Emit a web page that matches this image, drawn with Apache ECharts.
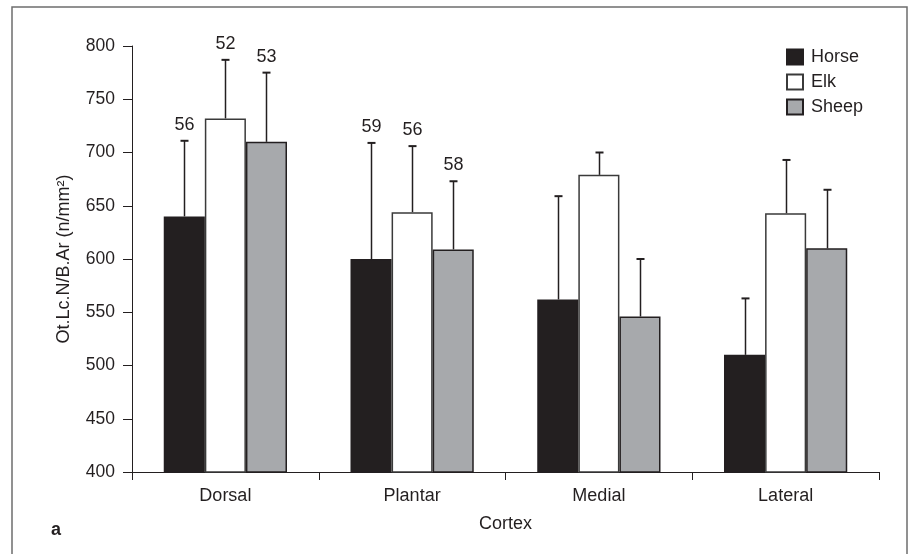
<!DOCTYPE html>
<html>
<head>
<meta charset="utf-8">
<script src="https://cdn.jsdelivr.net/npm/echarts@6/dist/echarts.min.js"></script>
<style>
html,body{margin:0;padding:0;background:#fff;}
#chart{width:912px;height:554px;}
</style>
</head>
<body>
<div id="chart"></div>
<script>
const categories = ['Dorsal', 'Plantar', 'Medial', 'Lateral'];
const seriesNames = ['Horse', 'Elk', 'Sheep'];
const horseMean = [640, 600, 562, 510];
const horseUpper = [711, 709, 659, 563];
const elkMean = [732, 644, 679, 643];
const elkUpper = [787, 706, 700, 693];
const sheepMean = [710, 609, 546, 610];
const sheepUpper = [775, 673, 600, 665];
const horseN = ['56', '59', '', ''];
const elkN = ['52', '56', '', ''];
const sheepN = ['53', '58', '', ''];
const yTicks = { min: 400, max: 800, interval: 50 };

const FONT = "'Liberation Sans', Arial, Helvetica, sans-serif";
const INK = '#231f20';
const CAT_GAP = 0.34;

const chart = echarts.init(document.getElementById('chart'), null, { renderer: 'canvas' });

function barSeries(name, data, color, border) {
  return {
    name: name,
    type: 'bar',
    data: data,
    barGap: '0%',
    barCategoryGap: (CAT_GAP * 100) + '%',
    itemStyle: { color: color, borderColor: border, borderWidth: 1.5 },
    emphasis: { disabled: true },
    z: 2
  };
}

function errSeries(idx, means, uppers, labels) {
  return {
    type: 'custom',
    name: seriesNames[idx] + ' SD',
    data: means.map((m, i) => [i, m, uppers[i]]),
    encode: { x: 0, y: [1, 2] },
    z: 3,
    silent: true,
    renderItem: function (params, api) {
      const cat = api.value(0);
      const band = api.size([1, 0])[0];
      const bw = band * (1 - CAT_GAP) / 3;
      const off = (idx - 1) * bw;
      const p0 = api.coord([cat, api.value(1)]);
      const p1 = api.coord([cat, api.value(2)]);
      const x = Math.round(p0[0] + off) + 0.5;
      const children = [
        { type: 'line', shape: { x1: x, y1: p0[1], x2: x, y2: p1[1] }, style: { stroke: INK, lineWidth: 1.5 } },
        { type: 'line', shape: { x1: x - 4, y1: p1[1], x2: x + 4, y2: p1[1] }, style: { stroke: INK, lineWidth: 2 } }
      ];
      const lab = labels[params.dataIndex];
      if (lab) {
        children.push({
          type: 'text',
          style: { text: lab, x: x, y: p1[1] - 7, align: 'center', verticalAlign: 'bottom', font: '18px ' + FONT, fill: INK }
        });
      }
      return { type: 'group', children: children };
    }
  };
}

const option = {
  animation: false,
  backgroundColor: '#fff',
  textStyle: { fontFamily: FONT },
  grid: { left: 132, right: 33, top: 46, bottom: 82 },
  legend: {
    data: seriesNames,
    orient: 'vertical',
    left: 781,
    top: 43,
    itemWidth: 16,
    itemHeight: 15,
    itemGap: 7,
    icon: 'rect',
    textStyle: { fontSize: 18, color: INK, fontFamily: FONT, padding: [0, 0, 0, 3] },
    selectedMode: false
  },
  xAxis: {
    type: 'category',
    data: categories,
    name: 'Cortex',
    nameLocation: 'middle',
    nameGap: 43,
    nameTextStyle: { fontSize: 18, color: INK, fontFamily: FONT },
    axisLine: { lineStyle: { color: INK, width: 1 } },
    axisTick: { show: true, interval: 0, length: 8, lineStyle: { color: INK } },
    axisLabel: { fontSize: 18, color: INK, margin: 15, fontFamily: FONT },
    splitLine: { show: false }
  },
  yAxis: {
    type: 'value',
    min: yTicks.min,
    max: yTicks.max,
    interval: yTicks.interval,
    name: 'Ot.Lc.N/B.Ar (n/mm²)',
    nameLocation: 'middle',
    nameGap: 59,
    nameTextStyle: { fontSize: 18, color: INK, fontFamily: FONT },
    axisLine: { show: true, lineStyle: { color: INK, width: 1 } },
    axisTick: { show: true, length: 9, lineStyle: { color: INK } },
    axisLabel: { fontSize: 17.5, color: INK, margin: 17, fontFamily: FONT },
    splitLine: { show: false }
  },
  graphic: [
    {
      type: 'rect',
      shape: { x: 12, y: 7, width: 895, height: 560 },
      style: { fill: 'none', stroke: '#6e6e6e', lineWidth: 1.5 },
      silent: true
    },
    {
      type: 'text',
      left: 51,
      top: 521,
      style: { text: 'a', font: 'bold 18px ' + FONT, fill: INK }
    }
  ],
  series: [
    barSeries('Horse', horseMean, INK, INK),
    barSeries('Elk', elkMean, '#ffffff', '#3a3a3a'),
    barSeries('Sheep', sheepMean, '#a7a9ac', INK),
    errSeries(0, horseMean, horseUpper, horseN),
    errSeries(1, elkMean, elkUpper, elkN),
    errSeries(2, sheepMean, sheepUpper, sheepN)
  ]
};

chart.setOption(option);
</script>
</body>
</html>
